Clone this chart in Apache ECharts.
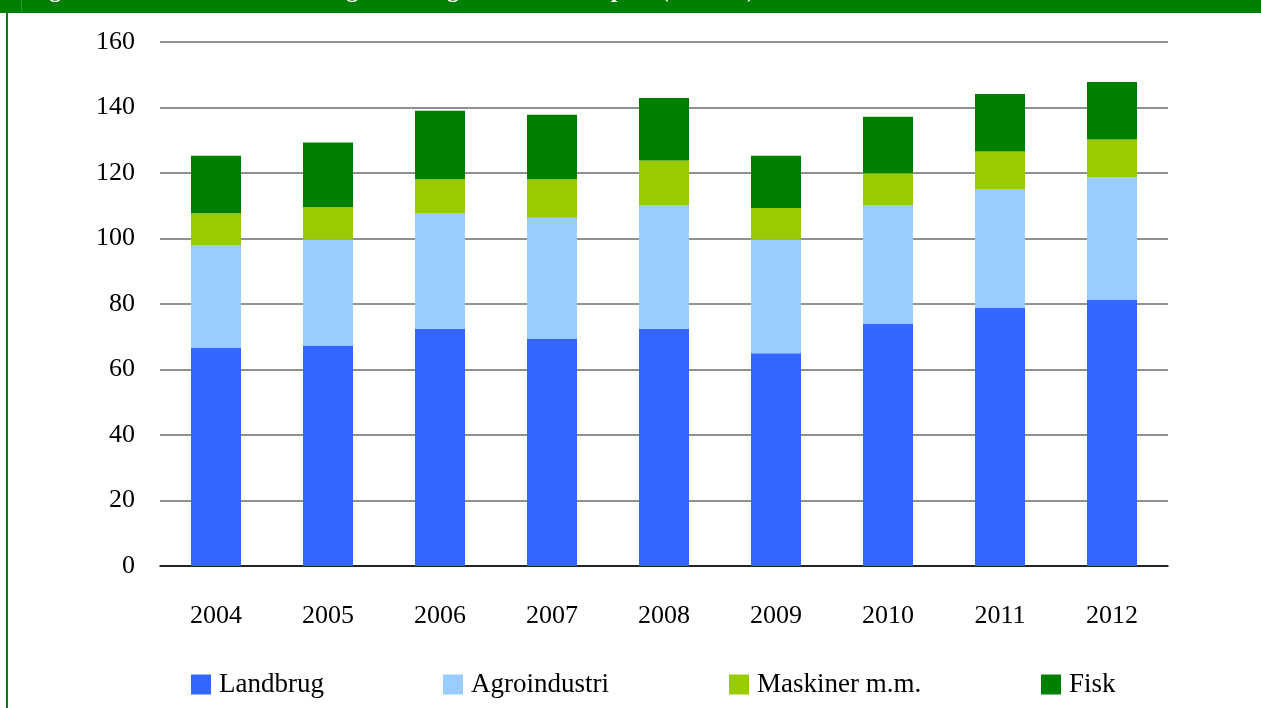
<!DOCTYPE html>
<html>
<head>
<meta charset="utf-8">
<script src="https://cdn.jsdelivr.net/npm/echarts@6/dist/echarts.min.js"></script>
<style>
  html, body { margin: 0; padding: 0; background: #fff; }
  #chart { width: 1261px; height: 708px; }
</style>
</head>
<body>
<div id="chart"></div>
<script>
// Export by sector, 2004–2012 (stacked)
const years = ['2004', '2005', '2006', '2007', '2008', '2009', '2010', '2011', '2012'];
const landbrug     = [66.6, 67.2, 72.4, 69.3, 72.4, 65.0, 73.9, 78.8, 81.2];
const agroindustri = [31.4, 32.4, 35.3, 37.0, 37.8, 34.6, 36.3, 36.2, 37.5];
const maskiner     = [9.7, 10.0, 10.4, 11.8, 13.6, 9.7, 9.7, 11.6, 11.5];
const fisk         = [17.6, 19.7, 20.9, 19.7, 19.1, 16.0, 17.3, 17.5, 17.6];
const seriesNames  = ['Landbrug', 'Agroindustri', 'Maskiner m.m.', 'Fisk'];
const seriesColors = ['#3366FF', '#99CCFF', '#99CC00', '#008000'];
const titleText = 'Figur 1: Danmarks fødevare- og landbrugsrelaterede eksport (mia. kr.)';

const font = '"Liberation Serif", "DejaVu Serif", serif';
const values = [landbrug, agroindustri, maskiner, fisk];

// one legend per entry so each sits at its own column
const legendLefts = [191, 443, 729, 1041];
const legends = seriesNames.map((name, i) => ({
  data: [name],
  left: legendLefts[i],
  top: 671,
  padding: 0,
  itemWidth: 20,
  itemHeight: 20,
  itemGap: 0,
  icon: 'rect',
  selectedMode: false,
  textStyle: { fontFamily: font, fontSize: 27, color: '#000', padding: [0, 0, 0, 3] }
}));

const chart = echarts.init(document.getElementById('chart'), null, { renderer: 'canvas' });
chart.setOption({
  backgroundColor: '#fff',
  animation: false,
  graphic: [
    { type: 'rect', shape: { x: 0, y: 0, width: 1261, height: 13 }, style: { fill: '#008000' }, z: 10 },
    { type: 'rect', shape: { x: 6, y: 0, width: 2, height: 708 }, style: { fill: '#008000' }, z: 10 },
    { type: 'rect', shape: { x: 21, y: 0, width: 1, height: 12 }, style: { fill: '#2e962e' }, z: 11 },
    {
      type: 'text', left: 28, top: -21, z: 12,
      style: { text: titleText, fill: '#fff', font: 'bold 24px ' + font }
    }
  ],
  legend: legends,
  grid: { left: 160, right: 93, top: 42, bottom: 142, containLabel: false },
  xAxis: {
    type: 'category',
    data: years,
    axisTick: { show: false },
    axisLine: { show: true, lineStyle: { color: '#000', width: 1.5 } },
    axisLabel: { fontFamily: font, fontSize: 26, color: '#000', margin: 37 }
  },
  yAxis: {
    type: 'value',
    min: 0, max: 160, interval: 20,
    axisLine: { show: false },
    axisTick: { show: false },
    axisLabel: { fontFamily: font, fontSize: 26, color: '#000', margin: 25 },
    splitLine: { lineStyle: { color: '#6a6a6a', width: 1.5 } }
  },
  series: seriesNames.map((name, i) => ({
    name: name,
    type: 'bar',
    stack: 'total',
    barWidth: 50,
    data: values[i],
    itemStyle: { color: seriesColors[i] }
  }))
});
</script>
</body>
</html>
